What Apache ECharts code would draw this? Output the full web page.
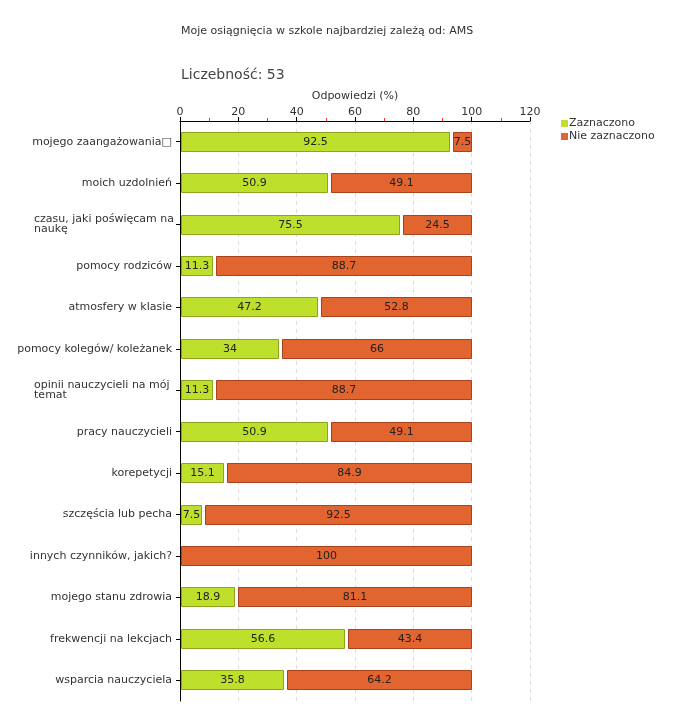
<!DOCTYPE html>
<html><head><meta charset="utf-8">
<script src="https://cdn.jsdelivr.net/npm/echarts@6/dist/echarts.min.js"></script>
<style>html,body{margin:0;padding:0;background:#fff}#c{width:680px;height:720px}</style>
</head><body><div id="c"></div>
<script>
const categories = [
  "mojego zaangażowania\u25A1",
  "moich uzdolnień",
  "czasu, jaki poświęcam na\nnaukę",
  "pomocy rodziców",
  "atmosfery w klasie",
  "pomocy kolegów/ koleżanek",
  "opinii nauczycieli na mój\ntemat",
  "pracy nauczycieli",
  "korepetycji",
  "szczęścia lub pecha",
  "innych czynników, jakich?",
  "mojego stanu zdrowia",
  "frekwencji na lekcjach",
  "wsparcia nauczyciela"
];
const zaznaczono = [92.5, 50.9, 75.5, 11.3, 47.2, 34, 11.3, 50.9, 15.1, 7.5, 0, 18.9, 56.6, 35.8];
const nieZaznaczono = [7.5, 49.1, 24.5, 88.7, 52.8, 66, 88.7, 49.1, 84.9, 92.5, 100, 81.1, 43.4, 64.2];
const xTicks = [0, 20, 40, 60, 80, 100, 120];

const font = "DejaVu Sans, Verdana, sans-serif";
const ctx = document.createElement('canvas').getContext('2d');
ctx.font = '11px ' + font;
function yLabel(v) {
  if (v.indexOf('\n') < 0) return v;
  return v.split('\n').map(l => '{w|' + l + '}').join('\n');
}
const wrapW = Math.max(...categories.filter(c => c.includes('\n')).map(c => ctx.measureText(c.split('\n')[0]).width)) - 2;

const GREEN = '#bee02c', GREEN_B = '#8ea31e', ORANGE = '#e2642f', ORANGE_B = '#a8411c';
const BAR_H = 20;

const chart = echarts.init(document.getElementById('c'), null, {renderer: 'canvas'});

// orange segment stacked after green, drawn via the axes' own scales
const orangeData = nieZaznaczono.map((v, i) => [v, i, zaznaczono[i]]);
function renderOrange(params, api) {
  const v = api.value(0), i = api.value(1), g = api.value(2);
  const p0 = api.coord([g, i]);
  const p1 = api.coord([g + v, i]);
  const gap = g > 0 ? 3 : 1;
  const x = Math.round(p0[0]) + gap;
  const w = Math.round(p1[0]) - x;
  const y = Math.round(p0[1] - BAR_H / 2);
  return {
    type: 'rect',
    shape: {x: x + 0.5, y: y + 0.5, width: w - 1, height: BAR_H - 1},
    style: {fill: ORANGE, stroke: ORANGE_B, lineWidth: 1},
    textContent: {style: {text: String(v), fill: '#222', fontSize: 11, fontFamily: font}},
    textConfig: {position: 'inside'}
  };
}
function renderGreen(params, api) {
  const v = api.value(0), i = api.value(1);
  if (!v) return null;
  const p0 = api.coord([0, i]);
  const p1 = api.coord([v, i]);
  const x = Math.round(p0[0]) + 1;
  const w = Math.round(p1[0]) - x;
  const y = Math.round(p0[1] - BAR_H / 2);
  return {
    type: 'rect',
    shape: {x: x + 0.5, y: y + 0.5, width: w - 1, height: BAR_H - 1},
    style: {fill: GREEN, stroke: GREEN_B, lineWidth: 1},
    textContent: {style: {text: String(v), fill: '#222', fontSize: 11, fontFamily: font}},
    textConfig: {position: 'inside'}
  };
}

chart.setOption({
  animation: false,
  textStyle: {fontFamily: font},
  graphic: [
    {type: 'text', left: 181, top: 26, style: {text: 'Moje osiągnięcia w szkole najbardziej zależą od: AMS', fontSize: 11, fill: '#333', fontFamily: font}},
    {type: 'text', left: 181, top: 68, style: {text: 'Liczebność: 53', fontSize: 14, fill: '#444', fontFamily: font}}
  ],
  legend: {
    orient: 'vertical', left: 556, top: 113, itemWidth: 7, itemHeight: 7, itemGap: 2,
    icon: 'rect', itemStyle: {borderWidth: 0},
    textStyle: {fontSize: 11, color: '#333', fontFamily: font, padding: [0, 0, 0, -4]},
    data: ['Zaznaczono', 'Nie zaznaczono']
  },
  grid: {left: 180, right: 150, top: 121, height: 580, containLabel: false},
  xAxis: {
    type: 'value', position: 'top', min: 0, max: 120, interval: 20,
    name: 'Odpowiedzi (%)', nameLocation: 'middle', nameGap: 15,
    nameTextStyle: {fontSize: 11, color: '#333', fontFamily: font},
    axisLine: {show: true, lineStyle: {color: '#000', width: 1}},
    axisTick: {show: true, length: 4, lineStyle: {color: '#000'}},
    minorTick: {show: true, splitNumber: 2, length: 3, lineStyle: {color: '#e33'}},
    axisLabel: {fontSize: 11, color: '#333', margin: 3, fontFamily: font,
      formatter: v => xTicks.includes(v) ? String(v) : ''},
    splitLine: {show: true, lineStyle: {color: '#ddd', type: [4, 4]}}
  },
  yAxis: {
    type: 'category', inverse: true, data: categories,
    axisLine: {show: true, lineStyle: {color: '#000'}},
    axisTick: {show: true, alignWithLabel: true, length: 4, lineStyle: {color: '#000'}},
    axisLabel: {fontSize: 11, color: '#333', margin: 8, fontFamily: font, lineHeight: 11,
      formatter: yLabel,
      rich: {w: {width: wrapW, align: 'left', fontSize: 11, color: '#333', fontFamily: font, lineHeight: 10}}},
    splitLine: {show: false}
  },
  series: [
    {name: 'Zaznaczono', type: 'custom', renderItem: renderGreen,
      data: zaznaczono.map((v, i) => [v, i]), encode: {x: 0, y: 1},
      itemStyle: {color: GREEN}},
    {name: 'Nie zaznaczono', type: 'custom', renderItem: renderOrange,
      data: orangeData, encode: {x: 0, y: 1},
      itemStyle: {color: ORANGE}}
  ]
});
</script></body></html>
